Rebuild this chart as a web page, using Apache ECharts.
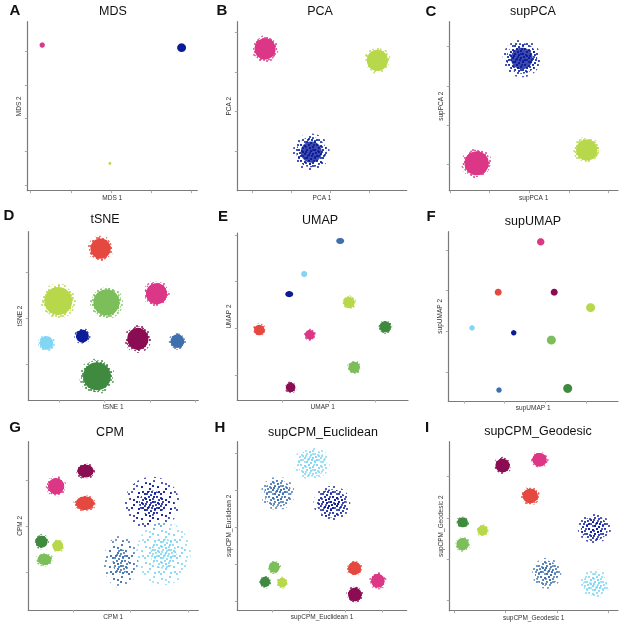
<!DOCTYPE html>
<html>
<head>
<meta charset="utf-8">
<script src="https://cdn.jsdelivr.net/npm/echarts@6/dist/echarts.min.js"></script>
<style>
html,body{margin:0;padding:0;background:#fff;}
#chart{width:622px;height:624px;}
</style>
</head>
<body>
<div id="chart"></div>
<script>
// ---------- DATA ----------
const panelLetters = ['A','B','C','D','E','F','G','H','I'];
const panelTitles = ['MDS','PCA','supPCA','tSNE','UMAP','supUMAP','CPM','supCPM_Euclidean','supCPM_Geodesic'];
const xAxisNames = ['MDS 1','PCA 1','supPCA 1','tSNE 1','UMAP 1','supUMAP 1','CPM 1','supCPM_Euclidean 1','supCPM_Geodesic 1'];
const yAxisNames = ['MDS 2','PCA 2','supPCA 2','tSNE 2','UMAP 2','supUMAP 2','CPM 2','supCPM_Euclidean 2','supCPM_Geodesic 2'];

// axis extents and tick values (per panel)
const xRanges = [[-0.08,4.14],[-0.37,3.96],[-0.02,4.24],[0.32,4.06],[0.04,3.69],[0.62,4.77],[0.23,3.17],[0.03,4.67],[0.90,4.19]];
const yRanges = [[-0.17,4.90],[-1.01,3.28],[-0.68,3.64],[0.21,3.90],[0.46,4.04],[0.28,4.45],[0.18,3.85],[0.75,5.31],[0.74,4.85]];
const xTicks = [[0,1,2,3,4],[0,1,2,3],[0,1,2,3,4],[1,2,3,4],[1,2,3],[1,2,3,4],[1,2,3],[1,2,3,4],[1,2,3,4]];
const yTicks = [[0,1,2,3,4],[0,1,2,3],[0,1,2,3],[1,2,3],[1,2,3,4],[1,2,3,4],[1,2,3],[1,2,3,4,5],[1,2,3,4]];

// cell groups
const groupNames = ['pink','red','maroon','lime','green','dkgreen','navy','steel','cyan'];
const groupColors = ['#DC3687','#E5483F','#8A0C52','#B8D84C','#7CBE5A','#3F8A3F','#0C1B98','#3E70AE','#82D6F4'];

// clusters per panel: [group, centerX, centerY, spreadX, spreadY]
const mdsClusters = [
  ['pink',0.29,4.20,0.065,0.08],
  ['navy',3.75,4.12,0.11,0.13],
  ['lime',1.97,0.65,0.035,0.045]
];
const pcaClusters = [
  ['pink',0.34,2.59,0.29,0.29],
  ['lime',3.21,2.30,0.29,0.29],
  ['cyan',1.52,-0.03,0.40,0.40],
  ['navy',1.52,-0.03,0.45,0.45]
];
const supPcaClusters = [
  ['cyan',1.81,2.70,0.42,0.42],
  ['navy',1.81,2.70,0.46,0.46],
  ['pink',0.67,0.02,0.33,0.33],
  ['lime',3.45,0.36,0.29,0.29]
];
const tsneClusters = [
  ['red',1.91,3.53,0.24,0.24],
  ['lime',0.98,2.38,0.33,0.33],
  ['green',2.04,2.35,0.31,0.31],
  ['pink',3.14,2.54,0.25,0.25],
  ['cyan',0.72,1.46,0.16,0.16],
  ['navy',1.51,1.61,0.15,0.15],
  ['maroon',2.73,1.55,0.25,0.26],
  ['steel',3.60,1.50,0.16,0.16],
  ['dkgreen',1.83,0.73,0.33,0.33]
];
const umapClusters = [
  ['steel',2.24,3.87,0.085,0.065],
  ['cyan',1.47,3.16,0.065,0.065],
  ['navy',1.15,2.73,0.085,0.065],
  ['lime',2.43,2.55,0.13,0.13],
  ['dkgreen',3.20,2.03,0.13,0.13],
  ['red',0.51,1.96,0.12,0.12],
  ['pink',1.59,1.86,0.11,0.11],
  ['green',2.54,1.16,0.13,0.13],
  ['maroon',1.18,0.73,0.11,0.11]
];
const supUmapClusters = [
  ['pink',2.88,4.20,0.09,0.09],
  ['red',1.84,2.96,0.085,0.085],
  ['maroon',3.21,2.96,0.085,0.085],
  ['lime',4.10,2.58,0.11,0.11],
  ['cyan',1.20,2.08,0.066,0.066],
  ['navy',2.22,1.96,0.066,0.066],
  ['green',3.14,1.78,0.11,0.11],
  ['steel',1.86,0.55,0.066,0.066],
  ['dkgreen',3.54,0.59,0.11,0.11]
];
const cpmClusters = [
  ['maroon',1.22,3.21,0.15,0.15],
  ['pink',0.71,2.88,0.15,0.19],
  ['red',1.21,2.51,0.17,0.16],
  ['navy',2.37,2.51,0.45,0.55],
  ['cyan',2.57,1.41,0.45,0.66],
  ['steel',1.83,1.23,0.28,0.55],
  ['dkgreen',0.46,1.67,0.11,0.14],
  ['lime',0.74,1.58,0.10,0.13],
  ['green',0.51,1.28,0.13,0.13]
];
const supCpmEucClusters = [
  ['cyan',2.07,4.73,0.47,0.43],
  ['steel',1.14,3.91,0.44,0.43],
  ['navy',2.62,3.64,0.48,0.45],
  ['green',1.04,1.91,0.16,0.16],
  ['dkgreen',0.79,1.51,0.15,0.15],
  ['lime',1.26,1.49,0.14,0.14],
  ['red',3.24,1.88,0.19,0.19],
  ['pink',3.88,1.54,0.20,0.20],
  ['maroon',3.25,1.17,0.20,0.20]
];
const supCpmGeoClusters = [
  ['maroon',1.94,4.27,0.15,0.18],
  ['pink',2.66,4.41,0.15,0.18],
  ['red',2.48,3.53,0.16,0.19],
  ['dkgreen',1.16,2.89,0.11,0.13],
  ['lime',1.55,2.69,0.11,0.13],
  ['green',1.16,2.36,0.13,0.16],
  ['navy',3.73,2.74,0.31,0.34],
  ['steel',2.80,1.65,0.27,0.36],
  ['cyan',3.74,1.39,0.27,0.34]
];
const panelClusters = [mdsClusters,pcaClusters,supPcaClusters,tsneClusters,umapClusters,supUmapClusters,cpmClusters,supCpmEucClusters,supCpmGeoClusters];

// ---------- LAYOUT / STYLE ----------
const grids = [
  {left:27.3,top:21.7,width:170,height:169},
  {left:237.3,top:21.7,width:169.4,height:169},
  {left:449.3,top:21.7,width:168.7,height:169},
  {left:28.3,top:231.7,width:170,height:168.3},
  {left:237.3,top:233,width:170.7,height:167},
  {left:448.3,top:231.7,width:169.7,height:169.3},
  {left:28.3,top:441.7,width:170,height:168.3},
  {left:237.3,top:441.7,width:169.4,height:168.3},
  {left:449.3,top:441.7,width:168.7,height:169}
];
const letterPos = [[15,11],[222,11],[431,12],[9,216],[223,217],[431,217],[15,428],[220,428],[427,428]];
const titlePos = [[113,12],[320,12],[533,12],[105,220],[320,221],[533,222],[110,433],[323,433],[538,432]];
// which clusters are drawn as loose scatter (sparse) in which panel
const sparsePanels = {6:['navy','cyan','steel'],7:['navy','cyan','steel'],8:['navy','cyan','steel'],1:['navy','cyan'],2:['navy','cyan']};

// dot textures (style only)
const tileDense = [[1,2],[5,1],[9,3],[13,1],[3,6],[7,7],[11,6],[15,8],[1,10],[5,11],[9,10],[13,12],[3,14],[7,15],[11,14],[15,4],[6,4],[12,9],[2,8],[8,12]];
const tileLoose = [[2,3],[10,1],[14,7],[6,9],[1,14],[11,13],[6,4],[15,12],[9,6],[4,12]];
function makePattern(color, dots, r) {
  const c = document.createElement('canvas');
  c.width = 16; c.height = 16;
  const ctx = c.getContext('2d');
  ctx.fillStyle = color;
  dots.forEach(d => { ctx.beginPath(); ctx.arc(d[0], d[1], r, 0, Math.PI*2); ctx.fill(); });
  return {image: c, repeat: 'repeat'};
}
const patterns = {};
groupNames.forEach((g,i) => {
  patterns[g] = {
    dense: makePattern(groupColors[i], tileDense, 1.05),
    loose: makePattern(groupColors[i], tileLoose, 0.95)
  };
});

function ellipsePts(cx, cy, rx, ry) {
  const pts = [];
  for (let k = 0; k < 40; k++) {
    const a = k / 40 * Math.PI * 2;
    pts.push([cx + rx*Math.cos(a), cy + ry*Math.sin(a)]);
  }
  return pts;
}

function makeRender(panelIdx) {
  return function(params, api) {
    const item = panelClusters[panelIdx][params.dataIndex];
    const g = item[0];
    const color = groupColors[groupNames.indexOf(g)];
    const c = api.coord([api.value(0), api.value(1)]);
    const s = api.size([api.value(2), api.value(3)]);
    const rx = s[0], ry = s[1];
    const sparse = (sparsePanels[panelIdx] || []).indexOf(g) >= 0;
    const children = [];
    const ell = (f, fill, op) => ({type:'polygon', shape:{points: ellipsePts(c[0],c[1],rx*f,ry*f)}, style:{fill: fill, opacity: op == null ? 1 : op}});
    if (rx < 5) {
      children.push(ell(1, color));
    } else if (sparse) {
      const isPca = panelIdx === 1 || panelIdx === 2;
      const isCpm = panelIdx === 6;
      children.push(ell(1.05, patterns[g].loose));
      children.push(ell(0.85, isCpm ? patterns[g].loose : patterns[g].dense));
      children.push(ell(0.5, patterns[g].dense));
      if (isPca && g === 'navy') {
        children.push(ell(0.6, color, 0.8));
      }
    } else {
      children.push(ell(1.18, patterns[g].loose));
      children.push(ell(1.06, patterns[g].dense));
      children.push(ell(0.93, color));
    }
    return {type:'group', children: children};
  };
}

const axisColor = '#7a7a7a';
const FONT = '"Liberation Sans", Arial, Helvetica, sans-serif';
const option = {
  animation: false,
  backgroundColor: '#ffffff',
  grid: grids.map(g => Object.assign({containLabel:false}, g)),
  xAxis: grids.map((g,i) => ({
    type:'value', gridIndex:i, min:xRanges[i][0], max:xRanges[i][1],
    name: xAxisNames[i], nameLocation:'middle', nameGap:4,
    nameTextStyle:{fontSize:6.5, color:'#333', fontFamily:FONT, verticalAlign:'top'},
    axisLine:{show:true, onZero:false, lineStyle:{color:axisColor, width:1.2}},
    axisTick:{show:true, length:2.5, lineStyle:{color:'#aaaaaa', width:1}, customValues: xTicks[i]},
    axisLabel:{show:false}, splitLine:{show:false}
  })),
  yAxis: grids.map((g,i) => ({
    type:'value', gridIndex:i, min:yRanges[i][0], max:yRanges[i][1],
    name: yAxisNames[i], nameLocation:'middle', nameGap:5, nameRotate:90,
    nameTextStyle:{fontSize:6.5, color:'#333', fontFamily:FONT},
    axisLine:{show:true, onZero:false, lineStyle:{color:axisColor, width:1.2}},
    axisTick:{show:true, length:2.5, lineStyle:{color:'#aaaaaa', width:1}, customValues: yTicks[i]},
    axisLabel:{show:false}, splitLine:{show:false}
  })),
  graphic: [].concat(
    panelLetters.map((t,i) => ({type:'text', x:letterPos[i][0], y:letterPos[i][1], style:{text:t, fontSize:15, fontWeight:'bold', fontFamily:FONT, fill:'#111', align:'center', verticalAlign:'middle'}})),
    panelTitles.map((t,i) => ({type:'text', x:titlePos[i][0], y:titlePos[i][1], style:{text:t, fontSize:12.5, fontFamily:FONT, fill:'#111', align:'center', verticalAlign:'middle'}}))
  ),
  series: panelClusters.map((cl,i) => ({
    type:'custom', xAxisIndex:i, yAxisIndex:i, clip:false,
    renderItem: makeRender(i),
    data: cl.map(c => [c[1], c[2], c[3], c[4]])
  }))
};
const chart = echarts.init(document.getElementById('chart'), null, {renderer:'canvas'});
chart.setOption(option);
</script>
</body>
</html>
